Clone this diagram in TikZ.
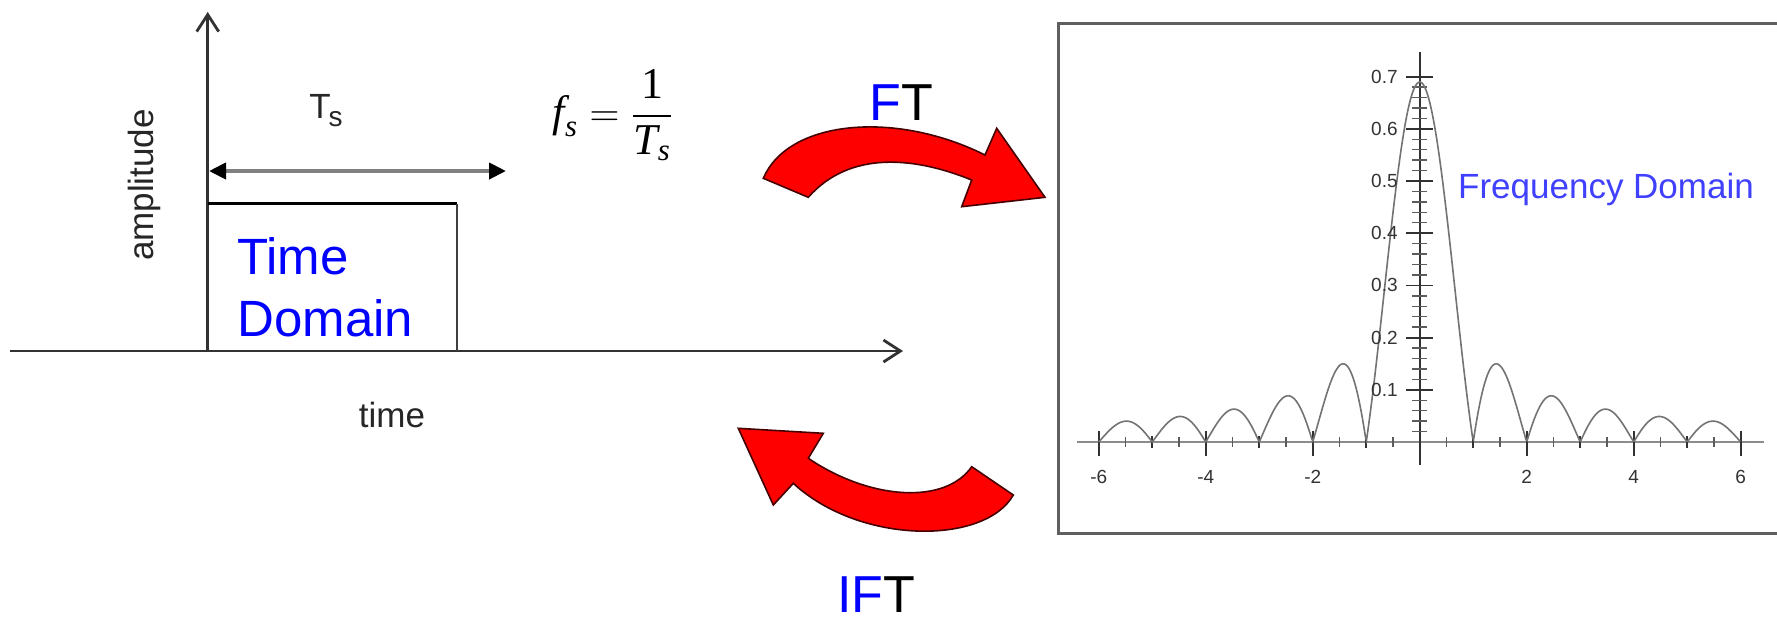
\documentclass[tikz,border=0pt]{standalone}
\usepackage{fontspec}
\setmainfont{Liberation Sans}
\newfontfamily\timesf{Liberation Serif}
\usepackage{amsmath}
\usetikzlibrary{arrows.meta}
\definecolor{axisgray}{RGB}{50,50,50}
\definecolor{plotaxis}{RGB}{140,140,140}
\definecolor{plotgray}{RGB}{115,115,115}
\definecolor{fdblue}{RGB}{64,64,255}
\definecolor{boxgray}{RGB}{95,95,95}
\definecolor{darkoutline}{RGB}{70,0,0}
\begin{document}
\begin{tikzpicture}[x=0.5pt,y=-0.5pt,
  axisline/.style={draw=axisgray, line width=1.4pt},
  barb/.style={-{Straight Barb[length=8.5pt,width=11pt]}},
  lbl/.style={inner sep=0, text=black!85, font=\fontsize{17.5}{21}\selectfont},
  bigblue/.style={inner sep=0, text=blue, font=\fontsize{25.5}{31}\selectfont},
  ftlbl/.style={inner sep=0, text=black, font=\fontsize{26}{30}\selectfont},
  ticklbl/.style={inner sep=0, text=black!80, font=\fontsize{9.5}{11}\selectfont},
  majtick/.style={draw=axisgray, line width=0.9pt},
  mintick/.style={draw=axisgray!80, line width=0.7pt},
  redarrow/.style={fill=red, draw=darkoutline, line width=0.8pt, line join=miter},
]
\useasboundingbox (0,0) rectangle (1777,623);
\clip (0,0) rectangle (1777,623);
\fill[white] (0,0) rectangle (1777,623);

% ---------- time domain ----------
\coordinate (O) at (207.7,351);
\coordinate (Atop) at (207.7,12);
\coordinate (Tleft) at (10,351);
\coordinate (Tright) at (903,351);
\draw[axisline, barb] (O) -- (Atop);
\draw[axisline, barb] (Tleft) -- (Tright);

\coordinate (P1) at (207.7,203.5);
\coordinate (P2) at (457,203.5);
\coordinate (P3) at (457,351);
\draw[black, line width=1.5pt] (P1) -- (P2);
\draw[black!75, line width=1pt] (P2) -- (P3);

\coordinate (D1) at (209,171);
\coordinate (D2) at (506,171);
\draw[line width=2pt, black!50,
  {Triangle[length=8.5pt,width=8pt,color=black]}-{Triangle[length=8.5pt,width=8pt,color=black]}] (D1) -- (D2);

\node[lbl, rotate=90] (amp) at (144,185) {amplitude};
\node[lbl, anchor=base] (timelbl) at (392,427) {time};
\node[lbl, anchor=base] (ts) at (326,118.3) {T\kern-1pt\raisebox{-4pt}{\fontsize{14}{14}\selectfont s}};
\node[bigblue, anchor=north west, align=left] (td) at (237,236.7) {Time\\Domain};

\node[inner sep=0, font=\fontsize{22}{26}\selectfont] (eq) at (613,115)
  {$\text{\timesf\itshape f}_{\text{\timesf\itshape s}}=\dfrac{\text{\timesf 1}}{\text{\timesf\itshape T}_{\text{\timesf\itshape s}}}$};

% ---------- curved arrows ----------
\filldraw[redarrow]
  (763.3,178.3) .. controls (788,120) and (895,110) .. (985,155)
  -- (996.7,128.3) -- (1045,197.3) -- (961.7,206.7) -- (971.7,180)
  .. controls (915,157) and (850,150) .. (808.3,197.3) -- cycle;
\node[ftlbl, anchor=base] (ft) at (901,120) {\textcolor{blue}{F}T};

\filldraw[redarrow]
  (738.3,428.3) -- (823.3,433.3) -- (808.3,458.3)
  .. controls (870,500) and (945,505) .. (971.7,466.7)
  -- (1013.3,495)
  .. controls (985,545) and (860,545) .. (793.3,483.3)
  -- (773.3,505) -- cycle;
\node[ftlbl, anchor=base] (ift) at (876,612) {\textcolor{blue}{IF}T};

% ---------- frequency domain ----------
\draw[boxgray, line width=1.5pt] (1058,23) rectangle (1800,533);

\draw[plotaxis, line width=1.2pt] (1077,442) -- (1764,442);
\draw[axisgray, line width=1pt] (1419.7,52) -- (1419.7,465);

\foreach \i in {-6,-4,-2,2,4,6}
  \draw[majtick] ({1419.7+53.5*\i},431) -- ++(0,25);
\foreach \i in {-5,-3,-1,1,3,5}
  \draw[majtick] ({1419.7+53.5*\i},436) -- ++(0,12);
\foreach \i in {-5.5,-4.5,-3.5,-2.5,-1.5,-0.5,0.5,1.5,2.5,3.5,4.5,5.5}
  \draw[mintick] ({1419.7+53.5*\i},437) -- ++(0,10);

\foreach \k in {1,...,35}
  \draw[mintick] (1412,{442-10.44*\k}) -- (1427,{442-10.44*\k});
\foreach \k in {1,...,7}
  \draw[majtick] (1406,{442-52.2*\k}) -- (1433,{442-52.2*\k});

\draw[plotgray, line width=0.8pt] plot[domain=-6:6, samples=600, variable=\t]
  ({1419.7+53.5*\t},{442-360*abs(sin(180*\t)/(3.14159*\t))});

\foreach \i in {-6,-4,-2,2,4,6}
  \node[ticklbl] (xl\i) at ({1419.7+53.5*\i},477) {\i};
\foreach \k in {1,...,7}
  \node[ticklbl, anchor=east] (yl\k) at (1398,{442-52.2*\k}) {0.\k};

\node[inner sep=0, text=fdblue, font=\fontsize{17.5}{21}\selectfont, anchor=base] (fd) at (1606,198.3) {Frequency Domain};
\end{tikzpicture}
\end{document}
